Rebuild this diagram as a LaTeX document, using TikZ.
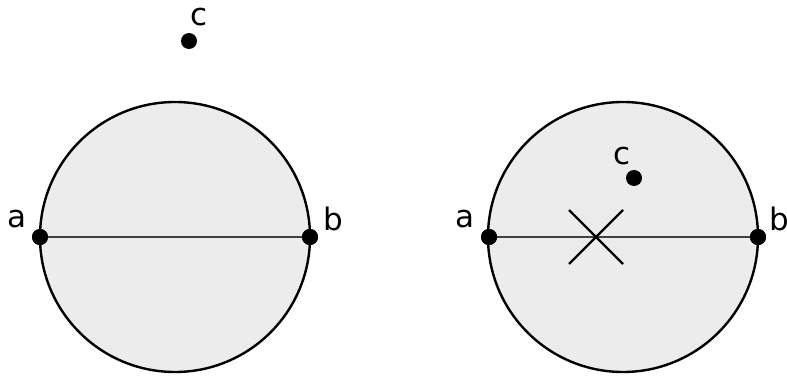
\documentclass[tikz,border=0pt]{standalone}
\usepackage{fontspec}
\setmainfont{DejaVu Sans}
\begin{document}
\begin{tikzpicture}[x=1pt, y=1pt,
    disc/.style={draw=black, line width=2.4pt, fill=gray!15},
    chord/.style={draw=black!75, line width=2.6pt},
    dot/.style={circle, fill=black, inner sep=0pt, minimum size=16pt},
    lbl/.style={font=\fontsize{31}{36}\selectfont, inner sep=0pt}]
    % 1. Khung hình
    \useasboundingbox (0, 0) rectangle (787, 376);

    % 2. Hình bên trái
    \draw[disc] (175, 139) circle (135);
    \node[dot] (aL) at (40, 139) {};
    \node[dot] (bL) at (310, 139) {};
    \draw[chord] (aL.center) -- (bL.center);
    \node[dot] at (aL) {};
    \node[dot] at (bL) {};
    \node[lbl] (aLt) at (17, 157) {a};
    \node[lbl] (bLt) at (333, 157) {b};
    \node[dot] (cL) at (189, 335) {};
    \node[lbl] (cLt) at (199, 359) {c};

    % 3. Hình bên phải
    \draw[disc] (623, 139) circle (135);
    \node[dot] (aR) at (489, 139) {};
    \node[dot] (bR) at (758, 139) {};
    \draw[chord] (aR.center) -- (bR.center);
    \node[dot] at (aR) {};
    \node[dot] at (bR) {};
    \node[lbl] (aRt) at (465, 157) {a};
    \node[lbl] (bRt) at (779, 157) {b};
    \node[dot] (cR) at (634, 198) {};
    \node[lbl] (cRt) at (622, 220) {c};

    % 4. Dấu chéo
    \coordinate (x) at (596, 139);
    \draw[line width=2.4pt] (x) ++(-27, 27) -- ++(54, -54);
    \draw[line width=2.4pt] (x) ++(-27, -27) -- ++(54, 54);
\end{tikzpicture}
\end{document}
